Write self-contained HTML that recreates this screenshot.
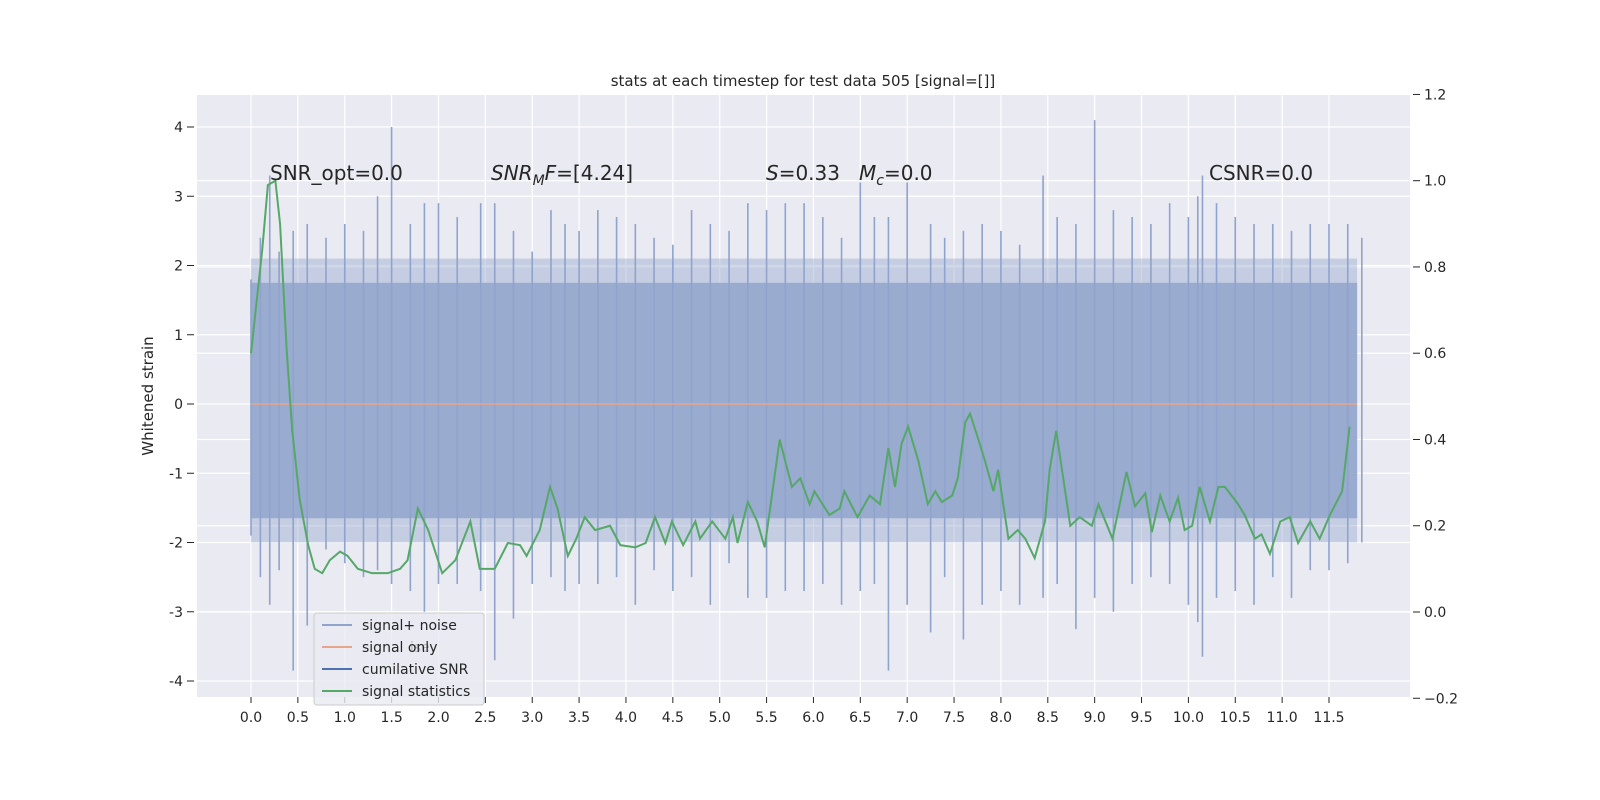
<!DOCTYPE html>
<html><head><meta charset="utf-8">
<style>
html,body{margin:0;padding:0;background:#fff;overflow:hidden;width:1600px;height:800px;}
svg{display:block;}
svg text{font-family:"DejaVu Sans","Liberation Sans",sans-serif;}
</style></head>
<body>
<svg id="chart" width="1600" height="800" xmlns="http://www.w3.org/2000/svg">
<rect x="0" y="0" width="1600" height="800" fill="#fff"/>
<rect x="197" y="95" width="1213" height="602" fill="#eaeaf2"/>
<g id="grid"></g>
<g id="noise"></g>
<g id="lines"></g>
<g id="axes"></g>
<text x="803" y="86" font-size="15" text-anchor="middle" fill="#262626">stats at each timestep for test data 505 [signal=[]]</text>
<text transform="translate(153,396) rotate(-90)" font-size="15" text-anchor="middle" fill="#262626">Whitened strain</text>
<text x="270" y="180" font-size="20" fill="#262626">SNR_opt=0.0</text>
<text x="491" y="180" font-size="20" fill="#262626"><tspan font-style="italic">SNR</tspan><tspan font-style="italic" font-size="14" dy="5">M</tspan><tspan font-style="italic" dy="-5">F</tspan>=[4.24]</text>
<text x="766" y="180" font-size="20" fill="#262626"><tspan font-style="italic">S</tspan>=0.33</text>
<text x="859" y="180" font-size="20" fill="#262626"><tspan font-style="italic">M</tspan><tspan font-style="italic" font-size="14" dy="5">c</tspan><tspan dy="-5">=0.0</tspan></text>
<text x="1209" y="180" font-size="20" fill="#262626">CSNR=0.0</text>
<g>
<rect x="314" y="613" width="170" height="92" rx="3" fill="#eaeaf2" fill-opacity="0.8" stroke="#cccccc"/>
<line x1="322" y1="625" x2="352" y2="625" stroke="#8fa3cc" stroke-width="2"/>
<text x="362" y="630" font-size="14" fill="#262626">signal+ noise</text>
<text x="410" y="652" font-size="14" fill="#262626" fill-opacity="0.25">ise</text>
<line x1="322" y1="647" x2="352" y2="647" stroke="#e8a48c" stroke-width="2"/>
<text x="362" y="652" font-size="14" fill="#262626">signal only</text>
<line x1="322" y1="669" x2="352" y2="669" stroke="#4c72b0" stroke-width="2"/>
<text x="362" y="674" font-size="14" fill="#262626">cumilative SNR</text>
<line x1="322" y1="691" x2="352" y2="691" stroke="#55a868" stroke-width="2"/>
<text x="362" y="696" font-size="14" fill="#262626">signal statistics</text>
</g>
</svg>
<script>
const xTicks=[0.0,0.5,1.0,1.5,2.0,2.5,3.0,3.5,4.0,4.5,5.0,5.5,6.0,6.5,7.0,7.5,8.0,8.5,9.0,9.5,10.0,10.5,11.0,11.5];
const yLeftTicks=[-4,-3,-2,-1,0,1,2,3,4];
const yRightTicks=[-0.2,0.0,0.2,0.4,0.6,0.8,1.0,1.2];
const statT=[0.0,0.12,0.18,0.26,0.31,0.38,0.44,0.52,0.61,0.68,0.76,0.84,0.95,1.03,1.14,1.29,1.46,1.59,1.67,1.78,1.89,2.04,2.18,2.34,2.44,2.60,2.74,2.87,2.94,3.08,3.19,3.27,3.38,3.47,3.56,3.67,3.83,3.94,4.10,4.21,4.31,4.42,4.49,4.61,4.74,4.79,4.92,5.06,5.14,5.19,5.30,5.40,5.48,5.64,5.77,5.86,5.96,6.01,6.17,6.28,6.33,6.47,6.60,6.71,6.80,6.87,6.94,7.01,7.12,7.22,7.30,7.37,7.48,7.54,7.62,7.67,7.76,7.83,7.92,7.97,8.08,8.18,8.26,8.36,8.47,8.52,8.59,8.74,8.84,8.97,9.04,9.19,9.34,9.43,9.54,9.61,9.70,9.80,9.89,9.96,10.04,10.12,10.23,10.32,10.39,10.53,10.60,10.71,10.78,10.87,10.98,11.08,11.17,11.30,11.40,11.51,11.64,11.72];
const statV=[0.60,0.84,0.99,1.0,0.90,0.61,0.42,0.26,0.155,0.10,0.09,0.12,0.14,0.13,0.10,0.09,0.09,0.10,0.12,0.24,0.19,0.09,0.12,0.21,0.10,0.10,0.16,0.155,0.13,0.19,0.29,0.24,0.13,0.17,0.22,0.19,0.20,0.155,0.15,0.16,0.22,0.16,0.21,0.155,0.21,0.17,0.21,0.17,0.22,0.16,0.255,0.21,0.15,0.40,0.29,0.31,0.25,0.28,0.225,0.24,0.28,0.22,0.27,0.25,0.38,0.29,0.39,0.43,0.35,0.25,0.28,0.255,0.27,0.31,0.44,0.46,0.40,0.35,0.28,0.33,0.17,0.19,0.17,0.125,0.21,0.33,0.42,0.20,0.22,0.20,0.25,0.17,0.325,0.245,0.275,0.185,0.27,0.21,0.265,0.19,0.20,0.29,0.21,0.29,0.29,0.25,0.225,0.17,0.18,0.135,0.21,0.22,0.16,0.21,0.17,0.225,0.28,0.43];
const spikeT=[0.0,0.1,0.2,0.3,0.45,0.6,0.8,1.0,1.2,1.35,1.5,1.7,1.85,2.0,2.2,2.45,2.6,2.8,3.0,3.2,3.35,3.5,3.7,3.9,4.1,4.3,4.5,4.7,4.9,5.1,5.3,5.5,5.7,5.9,6.1,6.3,6.5,6.65,6.8,7.0,7.25,7.4,7.6,7.8,8.0,8.2,8.45,8.6,8.8,9.0,9.2,9.4,9.6,9.8,10.0,10.1,10.15,10.3,10.5,10.7,10.9,11.1,11.3,11.5,11.7,11.85];
const spikeHi=[1.8,2.4,3.3,2.2,2.5,2.6,2.4,2.6,2.5,3.0,4.0,2.6,2.9,2.9,2.7,2.9,2.9,2.5,2.2,2.8,2.6,2.5,2.8,2.7,2.6,2.4,2.3,2.8,2.6,2.5,2.9,2.8,2.9,2.9,2.7,2.4,3.2,2.7,2.7,3.2,2.6,2.4,2.5,2.6,2.5,2.3,3.3,2.7,2.6,4.1,2.8,2.7,2.6,2.9,2.7,3.0,3.3,2.9,2.7,2.6,2.6,2.5,2.6,2.6,2.6,2.4];
const spikeLo=[-1.9,-2.5,-2.9,-2.4,-3.85,-3.2,-2.1,-2.3,-2.5,-2.4,-2.6,-2.7,-3.0,-2.6,-2.6,-2.7,-3.7,-3.1,-2.6,-2.5,-2.7,-2.6,-2.6,-2.5,-2.9,-2.4,-2.7,-2.5,-2.9,-2.3,-2.8,-2.8,-2.7,-2.7,-2.6,-2.9,-2.7,-2.6,-3.85,-2.9,-3.3,-2.5,-3.4,-2.9,-2.7,-2.9,-2.8,-2.6,-3.25,-2.8,-3.0,-2.6,-2.5,-2.6,-2.9,-3.15,-3.65,-2.8,-2.7,-2.9,-2.5,-2.8,-2.4,-2.4,-2.3,-2.0];
const NS='http://www.w3.org/2000/svg';
function X(t){return 251+t*93.74;}
function YL(v){return 404-v*69.25;}
function YR(v){return 612-v*431.3;}
function mk(tag,attrs,parent){const e=document.createElementNS(NS,tag);for(const k in attrs)e.setAttribute(k,attrs[k]);document.getElementById(parent).appendChild(e);return e;}
xTicks.forEach(t=>{
 const g=mk('line',{x1:X(t),x2:X(t),y1:95,y2:697,stroke:'#fff','stroke-width':1.2},'grid');
 
 
 mk('line',{x1:X(t),x2:X(t),y1:697,y2:703,stroke:'#262626'},'axes');
 const tx=mk('text',{x:X(t),y:722,'font-size':14,'text-anchor':'middle',fill:'#262626'},'axes');
 tx.textContent=t.toFixed(1);
 
 
});
yLeftTicks.forEach(v=>{
 const g=mk('line',{x1:197,x2:1410,y1:YL(v),y2:YL(v),stroke:'#fff','stroke-width':1.2},'grid');
 
 
 mk('line',{x1:187,x2:194,y1:YL(v),y2:YL(v),stroke:'#262626'},'axes');
 const tx=mk('text',{x:183,y:YL(v)+5,'font-size':14,'text-anchor':'end',fill:'#262626'},'axes');
 tx.textContent=v;
 
 
});
yRightTicks.forEach(v=>{
 const g=mk('line',{x1:197,x2:1410,y1:YR(v),y2:YR(v),stroke:'#fff','stroke-width':1.2},'grid');
 
 
 mk('line',{x1:1413,x2:1420,y1:YR(v),y2:YR(v),stroke:'#262626'},'axes');
 const tx=mk('text',{x:1424,y:YR(v)+5,'font-size':14,fill:'#262626'},'axes');
 tx.textContent=v.toFixed(1).replace('-','−');
 
 
});
const band=mk('rect',{x:X(0),y:YL(1.75),width:X(11.8)-X(0),height:YL(-1.65)-YL(1.75),fill:'#9aabcf'},'noise');


const band2=mk('rect',{x:X(0),y:YL(2.1),width:X(11.8)-X(0),height:YL(-2.0)-YL(2.1),fill:'#9aabcf','fill-opacity':0.45},'noise');


spikeT.forEach((t,i)=>{
 const l=mk('line',{x1:X(t),x2:X(t),y1:YL(spikeHi[i]),y2:YL(spikeLo[i]),stroke:'#8fa3cc','stroke-width':1.6},'noise');
 
 
});
const so=mk('line',{x1:X(0),x2:X(11.8),y1:YL(0),y2:YL(0),stroke:'#e8a48c','stroke-width':1.5},'lines');


const pts=statT.map((t,i)=>X(t)+','+YR(statV[i])).join(' ');
const pl=mk('polyline',{points:pts,fill:'none',stroke:'#55a868','stroke-width':2},'lines');


</script>
</body></html>
